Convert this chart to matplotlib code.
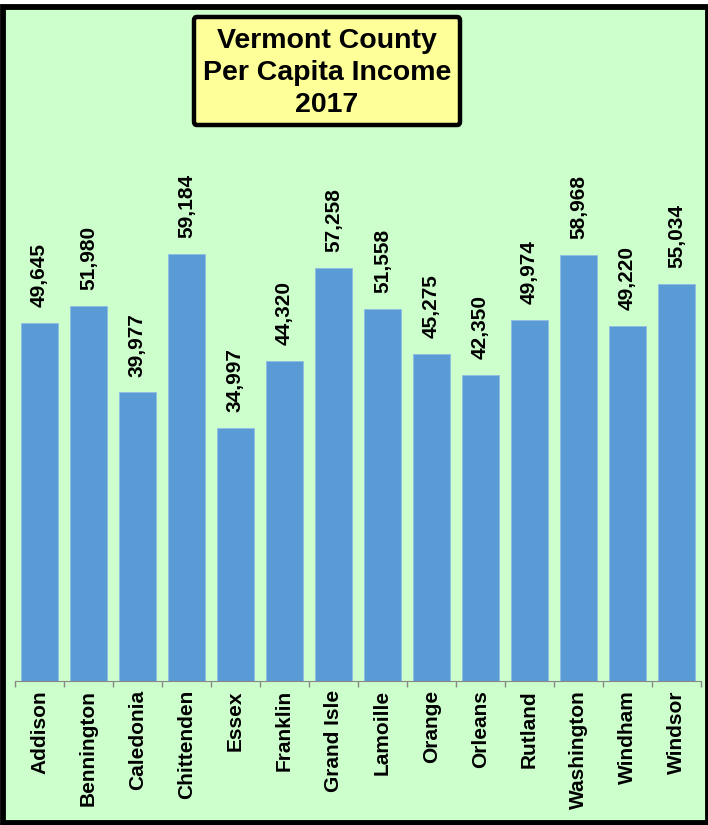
import matplotlib
matplotlib.use("Agg")
import matplotlib.pyplot as plt
from matplotlib.patches import Rectangle, FancyBboxPatch

counties = ["Addison", "Bennington", "Caledonia", "Chittenden", "Essex", "Franklin",
            "Grand Isle", "Lamoille", "Orange", "Orleans", "Rutland", "Washington",
            "Windham", "Windsor"]
income = [49645, 51980, 39977, 59184, 34997, 44320, 57258, 51558, 45275, 42350,
          49974, 58968, 49220, 55034]
title = "Vermont County\nPer Capita Income\n2017"

plt.rcParams["font.family"] = ["Liberation Sans", "DejaVu Sans"]

W, H = 708, 825
fig = plt.figure(figsize=(W / 100, H / 100), dpi=100)
fig.patch.set_facecolor("white")

# green panel with thick black frame
fig.patches.append(Rectangle((2.5 / W, 2.5 / H), (W - 3) / W, (H - 9.5) / H,
                             transform=fig.transFigure, facecolor="#CCFFCC",
                             edgecolor="black", linewidth=4.2, zorder=-5))

ax = fig.add_axes([15 / W, 144 / H, 686 / W, 671 / H])
ax.set_zorder(1)
ax.set_facecolor("none")

x = list(range(len(counties)))
ax.bar(x, income, width=0.755, color="#5B9BD5", edgecolor="#8FBCE6", linewidth=0.6)
ax.set_xlim(-0.5, len(counties) - 0.5)
ax.set_ylim(0, 671 / 0.007217 * 1)

for i, v in zip(x, income):
    ax.annotate(f"{v:,}", (i, v), xytext=(0, 11.5), textcoords="offset points",
                rotation=90, ha="center", va="bottom", fontsize=15, fontweight="bold")

ax.set_xticks(x)
ax.set_xticklabels(counties, rotation=90, fontsize=15, fontweight="bold")
ax.tick_params(axis="x", which="major", length=0, pad=6.5)
ax.set_xticks([i - 0.5 for i in range(len(counties) + 1)], minor=True)
ax.tick_params(axis="x", which="minor", length=4, color="#888888", width=1)
ax.set_yticks([])
for s in ["top", "left", "right"]:
    ax.spines[s].set_visible(False)
ax.spines["bottom"].set_color("#888888")

# title box
fig.patches.append(FancyBboxPatch((194 / W, 1 - 125 / H), 266 / W, 108 / H,
                                  boxstyle="round,pad=0,rounding_size=0.004",
                                  transform=fig.transFigure, facecolor="#FFFF99",
                                  edgecolor="black", linewidth=3.2, zorder=5))
fig.text(327 / W, 1 - 73 / H, title, ha="center", va="center", fontsize=20.5,
         fontweight="bold", linespacing=1.3, zorder=6)

fig.savefig("out.png", dpi=100, facecolor=fig.get_facecolor())
